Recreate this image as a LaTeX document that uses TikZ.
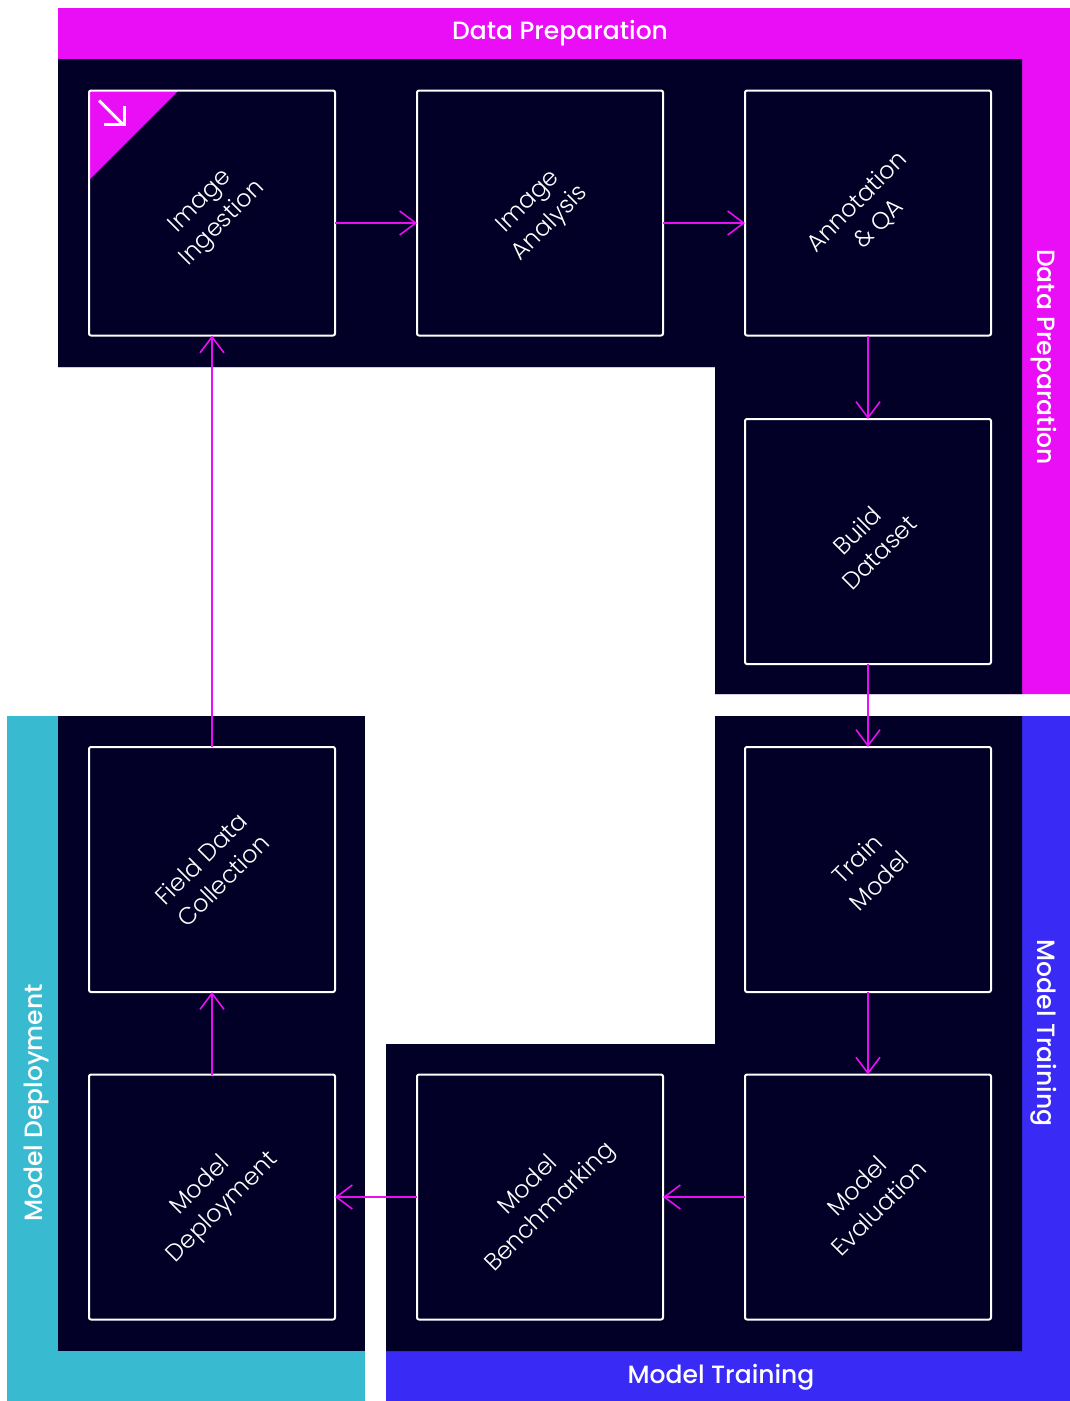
\documentclass[tikz,border=0pt]{standalone}
\usepackage{fontspec}
\setmainfont{Poppins}
\newfontfamily\stagefont{Poppins}[UprightFont=* Light]
\newfontfamily\titlefont{Poppins}[UprightFont=* Medium]
\usetikzlibrary{calc,arrows.meta}

\definecolor{night}{RGB}{2,0,38}
\definecolor{prepcol}{RGB}{233,14,245}
\definecolor{traincol}{RGB}{58,42,245}
\definecolor{deploycol}{RGB}{56,187,208}

\tikzset{
  stage/.style={draw=white, line width=2pt, rounded corners=2pt,
    minimum width=246pt, minimum height=245pt, inner sep=0pt, outer sep=0pt},
  stagetext/.style={text=white, rotate=45, align=center,
    font=\stagefont\fontsize{24}{31}\selectfont},
  bandtitle/.style={text=white, font=\titlefont\fontsize{25}{28}\selectfont},
  flow/.style={draw=prepcol, line width=1.6pt,
    -{Straight Barb[length=16pt,width=24pt,line width=1.6pt]}}
}

\begin{document}
\begin{tikzpicture}[x=1pt, y=-1pt, line join=miter]
  \useasboundingbox (0,0) rectangle (1070,1401);

  % Data preparation band (top row + right column)
  \fill[prepcol] (58,8) -- (1070,8) -- (1070,694) -- (715,694) -- (715,367)
    -- (58,367) -- cycle;
  \fill[night] (58,59) -- (1022,59) -- (1022,694) -- (715,694) -- (715,367)
    -- (58,367) -- cycle;

  % Model training band (right column + bottom row)
  \fill[traincol] (715,716) -- (1070,716) -- (1070,1401) -- (386,1401)
    -- (386,1044) -- (715,1044) -- cycle;
  \fill[night] (715,716) -- (1022,716) -- (1022,1351) -- (386,1351)
    -- (386,1044) -- (715,1044) -- cycle;

  % Model deployment band (left column)
  \fill[deploycol] (7,716) rectangle (365,1401);
  \fill[night] (58,716) rectangle (365,1351);

  % Start marker in the first stage
  \fill[prepcol] (89,91) -- (178,91) -- (89,180) -- cycle;

  % Stages
  \node[stage, label={[stagetext]center:Image\\Ingestion}] (ingest) at (212,213) {};
  \node[stage, label={[stagetext]center:Image\\Analysis}] (analysis) at (540,213) {};
  \node[stage, label={[stagetext]center:Annotation\\\& QA}] (annot) at (868,213) {};
  \node[stage, label={[stagetext]center:Build\\Dataset}] (dataset) at (868,541.5) {};
  \node[stage, label={[stagetext]center:Train\\Model}] (train) at (868,869.5) {};
  \node[stage, label={[stagetext]center:Model\\Evaluation}] (eval) at (868,1197) {};
  \node[stage, label={[stagetext]center:Model\\Benchmarking}] (bench) at (540,1197) {};
  \node[stage, label={[stagetext]center:Model\\Deployment}] (deploy) at (212,1197) {};
  \node[stage, label={[stagetext]center:Field Data\\Collection}] (field) at (212,869.5) {};

  % Start icon (arrow pointing into the loop)
  \draw[white, line width=3pt] ($(ingest.north west)+(10,10)$) -- ($(ingest.north west)+(34,34)$);
  \draw[white, line width=3pt] ($(ingest.north west)+(15,34)$) -- ($(ingest.north west)+(35,34)$)
    -- ($(ingest.north west)+(35,15)$);

  % Flow between stages
  \draw[flow] ([yshift=-10pt]ingest.east) -- ([yshift=-10pt]analysis.west);
  \draw[flow] ([yshift=-10pt]analysis.east) -- ([yshift=-10pt]annot.west);
  \draw[flow] (annot.south) -- (dataset.north);
  \draw[flow] (dataset.south) -- (train.north);
  \draw[flow] (train.south) -- (eval.north);
  \draw[flow] (eval.west) -- (bench.east);
  \draw[flow] (bench.west) -- (deploy.east);
  \draw[flow] (deploy.north) -- (field.south);
  \draw[flow] (field.north) -- (ingest.south);

  % Band titles
  \node[bandtitle] (preptop) at (560,33) {Data Preparation};
  \node[bandtitle, rotate=-90] (prepside) at (1044,357) {Data Preparation};
  \node[bandtitle, rotate=-90] (trainside) at (1044,1033) {Model Training};
  \node[bandtitle] (trainbot) at (721,1377) {Model Training};
  \node[bandtitle, rotate=90] (deployside) at (37,1103) {Model Deployment};
\end{tikzpicture}
\end{document}
